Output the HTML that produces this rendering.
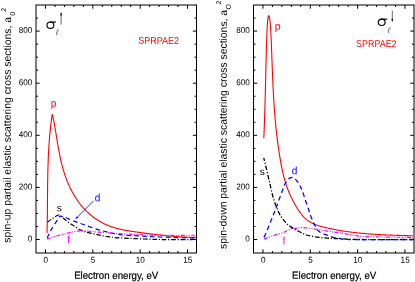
<!DOCTYPE html>
<html><head><meta charset="utf-8"><title>plot</title>
<style>
html,body{margin:0;padding:0;background:#fff;}
svg{display:block;}
text{font-family:"Liberation Sans",sans-serif;}
.tk{font-size:8.6px;fill:#000;}
</style></head><body>
<svg width="415" height="282" viewBox="0 0 415 282">
<defs><filter id="bl" x="0" y="0" width="415" height="282" filterUnits="userSpaceOnUse"><feGaussianBlur stdDeviation="0.38"/></filter></defs>
<rect width="415" height="282" fill="#fff"/>
<g filter="url(#bl)">
<line x1="36.00" y1="239.50" x2="39.70" y2="239.50" stroke="#000" stroke-width="1.0" />
<line x1="196.50" y1="239.50" x2="192.80" y2="239.50" stroke="#000" stroke-width="1.0" />
<line x1="36.00" y1="226.47" x2="38.00" y2="226.47" stroke="#000" stroke-width="1.0" />
<line x1="196.50" y1="226.47" x2="194.50" y2="226.47" stroke="#000" stroke-width="1.0" />
<line x1="36.00" y1="213.45" x2="38.00" y2="213.45" stroke="#000" stroke-width="1.0" />
<line x1="196.50" y1="213.45" x2="194.50" y2="213.45" stroke="#000" stroke-width="1.0" />
<line x1="36.00" y1="200.43" x2="38.00" y2="200.43" stroke="#000" stroke-width="1.0" />
<line x1="196.50" y1="200.43" x2="194.50" y2="200.43" stroke="#000" stroke-width="1.0" />
<line x1="36.00" y1="187.40" x2="39.70" y2="187.40" stroke="#000" stroke-width="1.0" />
<line x1="196.50" y1="187.40" x2="192.80" y2="187.40" stroke="#000" stroke-width="1.0" />
<line x1="36.00" y1="174.38" x2="38.00" y2="174.38" stroke="#000" stroke-width="1.0" />
<line x1="196.50" y1="174.38" x2="194.50" y2="174.38" stroke="#000" stroke-width="1.0" />
<line x1="36.00" y1="161.35" x2="38.00" y2="161.35" stroke="#000" stroke-width="1.0" />
<line x1="196.50" y1="161.35" x2="194.50" y2="161.35" stroke="#000" stroke-width="1.0" />
<line x1="36.00" y1="148.32" x2="38.00" y2="148.32" stroke="#000" stroke-width="1.0" />
<line x1="196.50" y1="148.32" x2="194.50" y2="148.32" stroke="#000" stroke-width="1.0" />
<line x1="36.00" y1="135.30" x2="39.70" y2="135.30" stroke="#000" stroke-width="1.0" />
<line x1="196.50" y1="135.30" x2="192.80" y2="135.30" stroke="#000" stroke-width="1.0" />
<line x1="36.00" y1="122.27" x2="38.00" y2="122.27" stroke="#000" stroke-width="1.0" />
<line x1="196.50" y1="122.27" x2="194.50" y2="122.27" stroke="#000" stroke-width="1.0" />
<line x1="36.00" y1="109.25" x2="38.00" y2="109.25" stroke="#000" stroke-width="1.0" />
<line x1="196.50" y1="109.25" x2="194.50" y2="109.25" stroke="#000" stroke-width="1.0" />
<line x1="36.00" y1="96.22" x2="38.00" y2="96.22" stroke="#000" stroke-width="1.0" />
<line x1="196.50" y1="96.22" x2="194.50" y2="96.22" stroke="#000" stroke-width="1.0" />
<line x1="36.00" y1="83.20" x2="39.70" y2="83.20" stroke="#000" stroke-width="1.0" />
<line x1="196.50" y1="83.20" x2="192.80" y2="83.20" stroke="#000" stroke-width="1.0" />
<line x1="36.00" y1="70.17" x2="38.00" y2="70.17" stroke="#000" stroke-width="1.0" />
<line x1="196.50" y1="70.17" x2="194.50" y2="70.17" stroke="#000" stroke-width="1.0" />
<line x1="36.00" y1="57.15" x2="38.00" y2="57.15" stroke="#000" stroke-width="1.0" />
<line x1="196.50" y1="57.15" x2="194.50" y2="57.15" stroke="#000" stroke-width="1.0" />
<line x1="36.00" y1="44.12" x2="38.00" y2="44.12" stroke="#000" stroke-width="1.0" />
<line x1="196.50" y1="44.12" x2="194.50" y2="44.12" stroke="#000" stroke-width="1.0" />
<line x1="36.00" y1="31.10" x2="39.70" y2="31.10" stroke="#000" stroke-width="1.0" />
<line x1="196.50" y1="31.10" x2="192.80" y2="31.10" stroke="#000" stroke-width="1.0" />
<line x1="36.00" y1="18.07" x2="38.00" y2="18.07" stroke="#000" stroke-width="1.0" />
<line x1="196.50" y1="18.07" x2="194.50" y2="18.07" stroke="#000" stroke-width="1.0" />
<line x1="45.50" y1="253.00" x2="45.50" y2="249.30" stroke="#000" stroke-width="1.0" />
<line x1="45.50" y1="5.00" x2="45.50" y2="8.70" stroke="#000" stroke-width="1.0" />
<line x1="54.97" y1="253.00" x2="54.97" y2="251.00" stroke="#000" stroke-width="1.0" />
<line x1="54.97" y1="5.00" x2="54.97" y2="7.00" stroke="#000" stroke-width="1.0" />
<line x1="64.43" y1="253.00" x2="64.43" y2="251.00" stroke="#000" stroke-width="1.0" />
<line x1="64.43" y1="5.00" x2="64.43" y2="7.00" stroke="#000" stroke-width="1.0" />
<line x1="73.90" y1="253.00" x2="73.90" y2="251.00" stroke="#000" stroke-width="1.0" />
<line x1="73.90" y1="5.00" x2="73.90" y2="7.00" stroke="#000" stroke-width="1.0" />
<line x1="83.37" y1="253.00" x2="83.37" y2="251.00" stroke="#000" stroke-width="1.0" />
<line x1="83.37" y1="5.00" x2="83.37" y2="7.00" stroke="#000" stroke-width="1.0" />
<line x1="92.84" y1="253.00" x2="92.84" y2="249.30" stroke="#000" stroke-width="1.0" />
<line x1="92.84" y1="5.00" x2="92.84" y2="8.70" stroke="#000" stroke-width="1.0" />
<line x1="102.30" y1="253.00" x2="102.30" y2="251.00" stroke="#000" stroke-width="1.0" />
<line x1="102.30" y1="5.00" x2="102.30" y2="7.00" stroke="#000" stroke-width="1.0" />
<line x1="111.77" y1="253.00" x2="111.77" y2="251.00" stroke="#000" stroke-width="1.0" />
<line x1="111.77" y1="5.00" x2="111.77" y2="7.00" stroke="#000" stroke-width="1.0" />
<line x1="121.24" y1="253.00" x2="121.24" y2="251.00" stroke="#000" stroke-width="1.0" />
<line x1="121.24" y1="5.00" x2="121.24" y2="7.00" stroke="#000" stroke-width="1.0" />
<line x1="130.70" y1="253.00" x2="130.70" y2="251.00" stroke="#000" stroke-width="1.0" />
<line x1="130.70" y1="5.00" x2="130.70" y2="7.00" stroke="#000" stroke-width="1.0" />
<line x1="140.17" y1="253.00" x2="140.17" y2="249.30" stroke="#000" stroke-width="1.0" />
<line x1="140.17" y1="5.00" x2="140.17" y2="8.70" stroke="#000" stroke-width="1.0" />
<line x1="149.64" y1="253.00" x2="149.64" y2="251.00" stroke="#000" stroke-width="1.0" />
<line x1="149.64" y1="5.00" x2="149.64" y2="7.00" stroke="#000" stroke-width="1.0" />
<line x1="159.10" y1="253.00" x2="159.10" y2="251.00" stroke="#000" stroke-width="1.0" />
<line x1="159.10" y1="5.00" x2="159.10" y2="7.00" stroke="#000" stroke-width="1.0" />
<line x1="168.57" y1="253.00" x2="168.57" y2="251.00" stroke="#000" stroke-width="1.0" />
<line x1="168.57" y1="5.00" x2="168.57" y2="7.00" stroke="#000" stroke-width="1.0" />
<line x1="178.04" y1="253.00" x2="178.04" y2="251.00" stroke="#000" stroke-width="1.0" />
<line x1="178.04" y1="5.00" x2="178.04" y2="7.00" stroke="#000" stroke-width="1.0" />
<line x1="187.50" y1="253.00" x2="187.50" y2="249.30" stroke="#000" stroke-width="1.0" />
<line x1="187.50" y1="5.00" x2="187.50" y2="8.70" stroke="#000" stroke-width="1.0" />
<rect x="36.00" y="5.00" width="160.50" height="248.00" fill="none" stroke="#000" stroke-width="1.0"/>
<text transform="translate(32.40,241.50) rotate(0.1) scale(0.95,1)" text-anchor="end" class="tk">0</text>
<text transform="translate(32.40,189.40) rotate(0.1) scale(0.95,1)" text-anchor="end" class="tk">200</text>
<text transform="translate(32.40,137.30) rotate(0.1) scale(0.95,1)" text-anchor="end" class="tk">400</text>
<text transform="translate(32.40,85.20) rotate(0.1) scale(0.95,1)" text-anchor="end" class="tk">600</text>
<text transform="translate(32.40,33.10) rotate(0.1) scale(0.95,1)" text-anchor="end" class="tk">800</text>
<text transform="translate(45.70,262.80) rotate(0.1) scale(0.95,1)" text-anchor="middle" class="tk">0</text>
<text transform="translate(93.04,262.80) rotate(0.1) scale(0.95,1)" text-anchor="middle" class="tk">5</text>
<text transform="translate(140.37,262.80) rotate(0.1) scale(0.95,1)" text-anchor="middle" class="tk">10</text>
<text transform="translate(187.70,262.80) rotate(0.1) scale(0.95,1)" text-anchor="middle" class="tk">15</text>
<line x1="253.50" y1="239.50" x2="257.20" y2="239.50" stroke="#000" stroke-width="1.0" />
<line x1="414.00" y1="239.50" x2="410.30" y2="239.50" stroke="#000" stroke-width="1.0" />
<line x1="253.50" y1="226.47" x2="255.50" y2="226.47" stroke="#000" stroke-width="1.0" />
<line x1="414.00" y1="226.47" x2="412.00" y2="226.47" stroke="#000" stroke-width="1.0" />
<line x1="253.50" y1="213.45" x2="255.50" y2="213.45" stroke="#000" stroke-width="1.0" />
<line x1="414.00" y1="213.45" x2="412.00" y2="213.45" stroke="#000" stroke-width="1.0" />
<line x1="253.50" y1="200.43" x2="255.50" y2="200.43" stroke="#000" stroke-width="1.0" />
<line x1="414.00" y1="200.43" x2="412.00" y2="200.43" stroke="#000" stroke-width="1.0" />
<line x1="253.50" y1="187.40" x2="257.20" y2="187.40" stroke="#000" stroke-width="1.0" />
<line x1="414.00" y1="187.40" x2="410.30" y2="187.40" stroke="#000" stroke-width="1.0" />
<line x1="253.50" y1="174.38" x2="255.50" y2="174.38" stroke="#000" stroke-width="1.0" />
<line x1="414.00" y1="174.38" x2="412.00" y2="174.38" stroke="#000" stroke-width="1.0" />
<line x1="253.50" y1="161.35" x2="255.50" y2="161.35" stroke="#000" stroke-width="1.0" />
<line x1="414.00" y1="161.35" x2="412.00" y2="161.35" stroke="#000" stroke-width="1.0" />
<line x1="253.50" y1="148.32" x2="255.50" y2="148.32" stroke="#000" stroke-width="1.0" />
<line x1="414.00" y1="148.32" x2="412.00" y2="148.32" stroke="#000" stroke-width="1.0" />
<line x1="253.50" y1="135.30" x2="257.20" y2="135.30" stroke="#000" stroke-width="1.0" />
<line x1="414.00" y1="135.30" x2="410.30" y2="135.30" stroke="#000" stroke-width="1.0" />
<line x1="253.50" y1="122.27" x2="255.50" y2="122.27" stroke="#000" stroke-width="1.0" />
<line x1="414.00" y1="122.27" x2="412.00" y2="122.27" stroke="#000" stroke-width="1.0" />
<line x1="253.50" y1="109.25" x2="255.50" y2="109.25" stroke="#000" stroke-width="1.0" />
<line x1="414.00" y1="109.25" x2="412.00" y2="109.25" stroke="#000" stroke-width="1.0" />
<line x1="253.50" y1="96.22" x2="255.50" y2="96.22" stroke="#000" stroke-width="1.0" />
<line x1="414.00" y1="96.22" x2="412.00" y2="96.22" stroke="#000" stroke-width="1.0" />
<line x1="253.50" y1="83.20" x2="257.20" y2="83.20" stroke="#000" stroke-width="1.0" />
<line x1="414.00" y1="83.20" x2="410.30" y2="83.20" stroke="#000" stroke-width="1.0" />
<line x1="253.50" y1="70.17" x2="255.50" y2="70.17" stroke="#000" stroke-width="1.0" />
<line x1="414.00" y1="70.17" x2="412.00" y2="70.17" stroke="#000" stroke-width="1.0" />
<line x1="253.50" y1="57.15" x2="255.50" y2="57.15" stroke="#000" stroke-width="1.0" />
<line x1="414.00" y1="57.15" x2="412.00" y2="57.15" stroke="#000" stroke-width="1.0" />
<line x1="253.50" y1="44.12" x2="255.50" y2="44.12" stroke="#000" stroke-width="1.0" />
<line x1="414.00" y1="44.12" x2="412.00" y2="44.12" stroke="#000" stroke-width="1.0" />
<line x1="253.50" y1="31.10" x2="257.20" y2="31.10" stroke="#000" stroke-width="1.0" />
<line x1="414.00" y1="31.10" x2="410.30" y2="31.10" stroke="#000" stroke-width="1.0" />
<line x1="253.50" y1="18.07" x2="255.50" y2="18.07" stroke="#000" stroke-width="1.0" />
<line x1="414.00" y1="18.07" x2="412.00" y2="18.07" stroke="#000" stroke-width="1.0" />
<line x1="262.95" y1="253.00" x2="262.95" y2="249.30" stroke="#000" stroke-width="1.0" />
<line x1="262.95" y1="5.00" x2="262.95" y2="8.70" stroke="#000" stroke-width="1.0" />
<line x1="272.42" y1="253.00" x2="272.42" y2="251.00" stroke="#000" stroke-width="1.0" />
<line x1="272.42" y1="5.00" x2="272.42" y2="7.00" stroke="#000" stroke-width="1.0" />
<line x1="281.88" y1="253.00" x2="281.88" y2="251.00" stroke="#000" stroke-width="1.0" />
<line x1="281.88" y1="5.00" x2="281.88" y2="7.00" stroke="#000" stroke-width="1.0" />
<line x1="291.35" y1="253.00" x2="291.35" y2="251.00" stroke="#000" stroke-width="1.0" />
<line x1="291.35" y1="5.00" x2="291.35" y2="7.00" stroke="#000" stroke-width="1.0" />
<line x1="300.82" y1="253.00" x2="300.82" y2="251.00" stroke="#000" stroke-width="1.0" />
<line x1="300.82" y1="5.00" x2="300.82" y2="7.00" stroke="#000" stroke-width="1.0" />
<line x1="310.28" y1="253.00" x2="310.28" y2="249.30" stroke="#000" stroke-width="1.0" />
<line x1="310.28" y1="5.00" x2="310.28" y2="8.70" stroke="#000" stroke-width="1.0" />
<line x1="319.75" y1="253.00" x2="319.75" y2="251.00" stroke="#000" stroke-width="1.0" />
<line x1="319.75" y1="5.00" x2="319.75" y2="7.00" stroke="#000" stroke-width="1.0" />
<line x1="329.22" y1="253.00" x2="329.22" y2="251.00" stroke="#000" stroke-width="1.0" />
<line x1="329.22" y1="5.00" x2="329.22" y2="7.00" stroke="#000" stroke-width="1.0" />
<line x1="338.69" y1="253.00" x2="338.69" y2="251.00" stroke="#000" stroke-width="1.0" />
<line x1="338.69" y1="5.00" x2="338.69" y2="7.00" stroke="#000" stroke-width="1.0" />
<line x1="348.15" y1="253.00" x2="348.15" y2="251.00" stroke="#000" stroke-width="1.0" />
<line x1="348.15" y1="5.00" x2="348.15" y2="7.00" stroke="#000" stroke-width="1.0" />
<line x1="357.62" y1="253.00" x2="357.62" y2="249.30" stroke="#000" stroke-width="1.0" />
<line x1="357.62" y1="5.00" x2="357.62" y2="8.70" stroke="#000" stroke-width="1.0" />
<line x1="367.09" y1="253.00" x2="367.09" y2="251.00" stroke="#000" stroke-width="1.0" />
<line x1="367.09" y1="5.00" x2="367.09" y2="7.00" stroke="#000" stroke-width="1.0" />
<line x1="376.55" y1="253.00" x2="376.55" y2="251.00" stroke="#000" stroke-width="1.0" />
<line x1="376.55" y1="5.00" x2="376.55" y2="7.00" stroke="#000" stroke-width="1.0" />
<line x1="386.02" y1="253.00" x2="386.02" y2="251.00" stroke="#000" stroke-width="1.0" />
<line x1="386.02" y1="5.00" x2="386.02" y2="7.00" stroke="#000" stroke-width="1.0" />
<line x1="395.49" y1="253.00" x2="395.49" y2="251.00" stroke="#000" stroke-width="1.0" />
<line x1="395.49" y1="5.00" x2="395.49" y2="7.00" stroke="#000" stroke-width="1.0" />
<line x1="404.95" y1="253.00" x2="404.95" y2="249.30" stroke="#000" stroke-width="1.0" />
<line x1="404.95" y1="5.00" x2="404.95" y2="8.70" stroke="#000" stroke-width="1.0" />
<rect x="253.50" y="5.00" width="160.50" height="248.00" fill="none" stroke="#000" stroke-width="1.0"/>
<text transform="translate(249.90,241.50) rotate(0.1) scale(0.95,1)" text-anchor="end" class="tk">0</text>
<text transform="translate(249.90,189.40) rotate(0.1) scale(0.95,1)" text-anchor="end" class="tk">200</text>
<text transform="translate(249.90,137.30) rotate(0.1) scale(0.95,1)" text-anchor="end" class="tk">400</text>
<text transform="translate(249.90,85.20) rotate(0.1) scale(0.95,1)" text-anchor="end" class="tk">600</text>
<text transform="translate(249.90,33.10) rotate(0.1) scale(0.95,1)" text-anchor="end" class="tk">800</text>
<text transform="translate(263.15,262.80) rotate(0.1) scale(0.95,1)" text-anchor="middle" class="tk">0</text>
<text transform="translate(310.48,262.80) rotate(0.1) scale(0.95,1)" text-anchor="middle" class="tk">5</text>
<text transform="translate(357.82,262.80) rotate(0.1) scale(0.95,1)" text-anchor="middle" class="tk">10</text>
<text transform="translate(405.15,262.80) rotate(0.1) scale(0.95,1)" text-anchor="middle" class="tk">15</text>
<path d="M47.01,233.22L47.02,232.90L47.03,232.48L47.04,232.00L47.05,231.50L47.07,231.00L47.08,230.50L47.09,230.00L47.10,229.50L47.11,229.00L47.12,228.50L47.14,228.00L47.15,227.50L47.16,227.00L47.17,226.50L47.18,226.00L47.19,225.50L47.20,225.00L47.21,224.50L47.21,224.00L47.22,223.50L47.23,223.00L47.24,222.50L47.25,222.00L47.26,221.50L47.26,221.00L47.27,220.50L47.28,220.00L47.29,219.50L47.29,219.00L47.30,218.50L47.31,218.00L47.31,217.50L47.32,217.00L47.33,216.50L47.33,216.00L47.34,215.50L47.34,215.00L47.35,214.50L47.36,214.00L47.36,213.50L47.37,213.00L47.37,212.50L47.38,212.00L47.38,211.50L47.39,211.00L47.39,210.50L47.40,210.00L47.40,209.50L47.40,209.00L47.41,208.50L47.41,208.00L47.42,207.50L47.42,207.00L47.43,206.50L47.43,206.00L47.43,205.50L47.44,205.00L47.44,204.50L47.45,204.00L47.45,203.50L47.45,203.00L47.46,202.50L47.46,202.00L47.46,201.50L47.47,201.00L47.47,200.50L47.48,200.00L47.48,199.50L47.48,199.00L47.49,198.50L47.49,198.00L47.50,197.50L47.50,197.00L47.50,196.50L47.51,196.00L47.51,195.50L47.52,195.00L47.52,194.50L47.52,194.00L47.53,193.50L47.53,193.00L47.54,192.50L47.54,192.00L47.55,191.50L47.55,191.00L47.56,190.50L47.56,190.00L47.56,189.50L47.57,189.00L47.58,188.50L47.58,188.00L47.59,187.50L47.59,187.00L47.60,186.50L47.60,186.00L47.61,185.50L47.61,185.00L47.62,184.50L47.63,184.00L47.63,183.50L47.64,183.00L47.65,182.50L47.65,182.00L47.66,181.50L47.67,181.00L47.68,180.51L47.68,180.01L47.69,179.51L47.70,179.01L47.71,178.51L47.72,178.01L47.73,177.51L47.73,177.01L47.74,176.51L47.75,176.01L47.76,175.51L47.77,175.01L47.78,174.51L47.79,174.01L47.80,173.51L47.82,173.01L47.83,172.51L47.84,172.01L47.85,171.51L47.86,171.01L47.87,170.51L47.89,170.01L47.90,169.51L47.91,169.01L47.93,168.51L47.94,168.01L47.95,167.51L47.97,167.01L47.98,166.51L48.00,166.01L48.01,165.51L48.03,165.01L48.05,164.51L48.06,164.01L48.08,163.51L48.10,163.01L48.11,162.51L48.13,162.01L48.15,161.51L48.17,161.01L48.19,160.51L48.21,160.01L48.23,159.51L48.25,159.01L48.27,158.51L48.29,158.01L48.31,157.51L48.33,157.01L48.35,156.52L48.37,156.02L48.40,155.52L48.42,155.02L48.44,154.52L48.47,154.02L48.49,153.52L48.52,153.02L48.54,152.52L48.57,152.02L48.60,151.52L48.62,151.02L48.65,150.52L48.68,150.02L48.71,149.52L48.74,149.03L48.77,148.53L48.80,148.03L48.83,147.53L48.86,147.03L48.89,146.53L48.92,146.03L48.95,145.53L48.99,145.03L49.02,144.53L49.05,144.04L49.09,143.54L49.12,143.04L49.16,142.54L49.19,142.04L49.23,141.54L49.27,141.04L49.31,140.54L49.34,140.05L49.38,139.55L49.42,139.05L49.46,138.55L49.50,138.05L49.55,137.55L49.59,137.06L49.63,136.56L49.67,136.06L49.72,135.56L49.76,135.06L49.81,134.57L49.85,134.07L49.90,133.57L49.95,133.07L49.99,132.57L50.04,132.08L50.09,131.58L50.14,131.08L50.19,130.58L50.24,130.09L50.29,129.59L50.35,129.09L50.40,128.59L50.45,128.10L50.51,127.60L50.56,127.10L50.62,126.61L50.67,126.11L50.73,125.61L50.79,125.12L50.85,124.62L50.91,124.12L50.97,123.63L51.03,123.13L51.09,122.63L51.15,122.14L51.21,121.64L51.28,121.15L51.34,120.65L51.41,120.16L51.47,119.66L51.54,119.16L51.61,118.67L51.68,118.17L51.75,117.68L51.82,117.18L51.89,116.69L51.96,116.19L52.03,115.70L52.10,115.22L52.18,114.79L52.26,114.51L52.35,114.47L52.45,114.69L52.56,115.08L52.67,115.54L52.77,116.03L52.88,116.52L52.98,117.01L53.09,117.50L53.19,117.99L53.29,118.48L53.39,118.97L53.49,119.46L53.58,119.95L53.68,120.44L53.77,120.93L53.87,121.42L53.96,121.91L54.05,122.40L54.15,122.89L54.24,123.38L54.33,123.88L54.42,124.37L54.51,124.86L54.59,125.35L54.68,125.84L54.77,126.34L54.85,126.83L54.94,127.32L55.02,127.81L55.11,128.31L55.19,128.80L55.28,129.29L55.36,129.79L55.44,130.28L55.52,130.77L55.61,131.27L55.69,131.76L55.77,132.25L55.85,132.75L55.93,133.24L56.01,133.73L56.09,134.23L56.17,134.72L56.25,135.21L56.33,135.71L56.41,136.20L56.49,136.69L56.57,137.19L56.65,137.68L56.73,138.18L56.81,138.67L56.89,139.16L56.97,139.66L57.05,140.15L57.13,140.64L57.21,141.14L57.30,141.63L57.38,142.12L57.46,142.62L57.54,143.11L57.62,143.60L57.70,144.10L57.79,144.59L57.87,145.08L57.96,145.57L58.04,146.07L58.12,146.56L58.21,147.05L58.30,147.55L58.38,148.04L58.47,148.53L58.56,149.02L58.65,149.51L58.74,150.01L58.83,150.50L58.92,150.99L59.01,151.48L59.10,151.97L59.19,152.46L59.29,152.96L59.38,153.45L59.48,153.94L59.57,154.43L59.67,154.92L59.77,155.41L59.87,155.90L59.97,156.39L60.07,156.88L60.17,157.37L60.28,157.86L60.38,158.34L60.49,158.83L60.60,159.32L60.70,159.81L60.81,160.30L60.93,160.79L61.04,161.27L61.15,161.76L61.27,162.25L61.38,162.73L61.50,163.22L61.62,163.70L61.74,164.19L61.86,164.67L61.99,165.16L62.11,165.64L62.24,166.13L62.37,166.61L62.50,167.09L62.63,167.57L62.77,168.05L62.90,168.54L63.04,169.02L63.18,169.50L63.32,169.98L63.46,170.46L63.61,170.93L63.75,171.41L63.90,171.89L64.05,172.37L64.20,172.84L64.35,173.32L64.51,173.80L64.67,174.27L64.83,174.74L64.99,175.22L65.15,175.69L65.31,176.16L65.48,176.63L65.65,177.10L65.82,177.57L65.99,178.04L66.17,178.51L66.34,178.98L66.52,179.45L66.70,179.91L66.88,180.38L67.07,180.84L67.25,181.31L67.44,181.77L67.63,182.23L67.83,182.69L68.02,183.16L68.22,183.62L68.42,184.07L68.62,184.53L68.82,184.99L69.03,185.44L69.23,185.90L69.44,186.35L69.65,186.81L69.87,187.26L70.08,187.71L70.30,188.16L70.52,188.61L70.74,189.06L70.97,189.50L71.20,189.95L71.43,190.39L71.66,190.84L71.89,191.28L72.13,191.72L72.37,192.16L72.61,192.60L72.85,193.03L73.09,193.47L73.34,193.90L73.59,194.34L73.84,194.77L74.10,195.20L74.35,195.63L74.61,196.06L74.87,196.48L75.14,196.91L75.40,197.33L75.67,197.75L75.94,198.17L76.22,198.59L76.49,199.01L76.77,199.42L77.05,199.84L77.33,200.25L77.62,200.66L77.91,201.07L78.20,201.48L78.49,201.88L78.78,202.29L79.08,202.69L79.38,203.09L79.68,203.49L79.99,203.88L80.29,204.28L80.60,204.67L80.92,205.06L81.23,205.45L81.55,205.84L81.87,206.22L82.19,206.60L82.51,206.98L82.84,207.36L83.17,207.74L83.50,208.11L83.84,208.48L84.18,208.85L84.52,209.22L84.86,209.58L85.21,209.94L85.55,210.30L85.90,210.66L86.26,211.01L86.61,211.36L86.97,211.71L87.33,212.06L87.70,212.40L88.06,212.74L88.43,213.08L88.80,213.41L89.18,213.74L89.55,214.07L89.93,214.40L90.31,214.72L90.70,215.04L91.08,215.36L91.47,215.68L91.86,215.99L92.25,216.30L92.65,216.60L93.05,216.90L93.45,217.20L93.85,217.50L94.25,217.80L94.66,218.09L95.07,218.37L95.48,218.66L95.89,218.94L96.31,219.22L96.73,219.50L97.15,219.77L97.57,220.04L97.99,220.30L98.41,220.57L98.84,220.83L99.27,221.09L99.70,221.34L100.13,221.59L100.57,221.84L101.00,222.08L101.44,222.32L101.88,222.56L102.32,222.80L102.77,223.03L103.21,223.25L103.66,223.48L104.11,223.70L104.56,223.92L105.01,224.13L105.46,224.34L105.92,224.55L106.37,224.75L106.83,224.95L107.29,225.15L107.75,225.34L108.21,225.53L108.68,225.72L109.14,225.90L109.61,226.08L110.08,226.26L110.55,226.43L111.02,226.60L111.49,226.76L111.96,226.92L112.44,227.08L112.91,227.24L113.39,227.39L113.87,227.54L114.35,227.68L114.83,227.82L115.31,227.96L115.79,228.10L116.27,228.23L116.75,228.37L117.23,228.49L117.72,228.62L118.20,228.74L118.69,228.86L119.17,228.98L119.66,229.09L120.15,229.21L120.64,229.32L121.12,229.43L121.61,229.53L122.10,229.64L122.59,229.74L123.08,229.84L123.57,229.93L124.06,230.03L124.55,230.12L125.04,230.22L125.54,230.31L126.03,230.40L126.52,230.48L127.01,230.57L127.51,230.65L128.00,230.74L128.49,230.82L128.99,230.90L129.48,230.98L129.97,231.06L130.47,231.13L130.96,231.21L131.46,231.28L131.95,231.36L132.44,231.43L132.94,231.51L133.43,231.58L133.93,231.65L134.42,231.72L134.92,231.79L135.41,231.86L135.91,231.93L136.40,232.00L136.90,232.07L137.39,232.14L137.89,232.21L138.39,232.27L138.88,232.34L139.38,232.41L139.87,232.48L140.37,232.55L140.86,232.61L141.36,232.68L141.85,232.75L142.35,232.81L142.84,232.88L143.34,232.95L143.84,233.01L144.33,233.08L144.83,233.14L145.32,233.21L145.82,233.27L146.31,233.34L146.81,233.40L147.31,233.47L147.80,233.53L148.30,233.60L148.79,233.66L149.29,233.72L149.79,233.78L150.28,233.85L150.78,233.91L151.27,233.97L151.77,234.03L152.27,234.09L152.76,234.15L153.26,234.21L153.76,234.27L154.25,234.33L154.75,234.39L155.25,234.45L155.74,234.51L156.24,234.57L156.74,234.63L157.23,234.68L157.73,234.74L158.23,234.80L158.72,234.85L159.22,234.91L159.72,234.96L160.21,235.02L160.71,235.07L161.21,235.13L161.70,235.18L162.20,235.23L162.70,235.29L163.20,235.34L163.69,235.39L164.19,235.44L164.69,235.49L165.19,235.54L165.68,235.59L166.18,235.64L166.68,235.69L167.18,235.74L167.67,235.79L168.17,235.83L168.67,235.88L169.17,235.93L169.66,235.97L170.16,236.02L170.66,236.06L171.16,236.10L171.66,236.15L172.16,236.19L172.65,236.23L173.15,236.27L173.65,236.32L174.15,236.36L174.65,236.40L175.15,236.43L175.64,236.47L176.14,236.51L176.64,236.55L177.14,236.58L177.64,236.62L178.14,236.66L178.64,236.69L179.13,236.72L179.63,236.76L180.13,236.79L180.63,236.82L181.13,236.85L181.63,236.88L182.13,236.91L182.63,236.94L183.13,236.97L183.63,237.00L184.13,237.02L184.63,237.05L185.12,237.07L185.62,237.10L186.12,237.12L186.62,237.14L187.12,237.16L187.62,237.19L188.12,237.21L188.62,237.22L189.12,237.24L189.62,237.26L190.12,237.28L190.62,237.29L191.12,237.31L191.62,237.32L192.12,237.33L192.62,237.34L193.12,237.36L193.62,237.37L194.12,237.37L194.61,237.38L195.08,237.39L195.49,237.39L195.77,237.40" fill="none" stroke="#ff0000" stroke-width="1.1" stroke-linejoin="round"/>
<path d="M47.50,222.20C48.38,221.55 50.92,219.50 52.75,218.30C54.58,217.10 56.96,215.18 58.50,215.00C60.04,214.82 60.83,216.37 62.00,217.20C63.17,218.03 64.17,218.97 65.50,220.00C66.83,221.03 68.25,222.18 70.00,223.40C71.75,224.62 74.33,226.23 76.00,227.30C77.67,228.37 78.67,229.12 80.00,229.80C81.33,230.48 82.90,231.00 84.00,231.40C85.10,231.80 84.39,231.65 86.60,232.20C88.81,232.75 93.70,233.97 97.25,234.70C100.80,235.43 104.11,236.07 107.90,236.60C111.69,237.13 111.32,237.42 120.00,237.90C128.68,238.38 147.33,239.23 160.00,239.50C172.67,239.77 190.00,239.50 196.00,239.50" fill="none" stroke="#000000" stroke-width="1.2" stroke-dasharray="4.6 1.8 1.2 1.8" stroke-dashoffset="0" stroke-linejoin="round"/>
<path d="M47.20,238.00C47.47,237.42 48.05,236.02 48.80,234.50C49.55,232.98 50.25,231.35 51.70,228.90C53.15,226.45 56.12,221.92 57.50,219.80C58.88,217.68 58.98,216.70 60.00,216.20C61.02,215.70 62.15,216.35 63.60,216.80C65.05,217.25 66.63,218.05 68.70,218.90C70.77,219.75 74.23,221.20 76.00,221.90C77.77,222.60 77.53,222.48 79.30,223.10C81.07,223.72 83.61,224.55 86.60,225.60C89.59,226.65 93.70,228.32 97.25,229.40C100.80,230.48 104.11,231.22 107.90,232.10C111.69,232.98 114.65,234.05 120.00,234.70C125.35,235.35 133.33,235.62 140.00,236.00C146.67,236.38 150.67,236.63 160.00,237.00C169.33,237.37 190.00,238.00 196.00,238.20" fill="none" stroke="#0000ff" stroke-width="1.2" stroke-dasharray="4.6 3.3" stroke-dashoffset="0" stroke-linejoin="round"/>
<path d="M46.90,239.30C48.05,238.87 50.52,237.67 53.80,236.70C57.08,235.73 63.07,234.38 66.60,233.50C70.13,232.62 72.10,231.85 75.00,231.40C77.90,230.95 80.29,230.70 84.00,230.80C87.71,230.90 91.25,231.52 97.25,232.00C103.25,232.48 113.38,233.28 120.00,233.70C126.62,234.12 131.00,234.24 137.00,234.50C143.00,234.76 146.17,235.12 156.00,235.25C165.83,235.38 189.33,235.25 196.00,235.25" fill="none" stroke="#ff00ff" stroke-width="1.2" stroke-dasharray="3.9 1.5 1 1.5 1 1.5" stroke-dashoffset="0" stroke-linejoin="round"/>
<line x1="93.60" y1="200.90" x2="76.60" y2="217.90" stroke="#0000ff" stroke-width="0.85" />
<path d="M75.3,219.2 L78.3,217.7 L76.8,216.2 Z" fill="#0000ff"/>
<path d="M263.81,138.17L263.82,137.79L263.85,137.30L263.87,136.80L263.89,136.30L263.91,135.80L263.93,135.30L263.96,134.80L263.98,134.30L264.00,133.80L264.02,133.30L264.04,132.81L264.06,132.31L264.08,131.81L264.10,131.31L264.12,130.81L264.14,130.31L264.16,129.81L264.18,129.31L264.20,128.81L264.22,128.31L264.24,127.81L264.26,127.31L264.28,126.81L264.30,126.31L264.32,125.81L264.34,125.31L264.36,124.81L264.37,124.31L264.39,123.81L264.41,123.31L264.43,122.81L264.45,122.31L264.46,121.81L264.48,121.31L264.50,120.81L264.52,120.31L264.53,119.81L264.55,119.31L264.57,118.82L264.58,118.32L264.60,117.82L264.62,117.32L264.63,116.82L264.65,116.32L264.67,115.82L264.68,115.32L264.70,114.82L264.71,114.32L264.73,113.82L264.75,113.32L264.76,112.82L264.78,112.32L264.79,111.82L264.81,111.32L264.82,110.82L264.84,110.32L264.85,109.82L264.87,109.32L264.88,108.82L264.90,108.32L264.91,107.82L264.93,107.32L264.94,106.82L264.95,106.32L264.97,105.82L264.98,105.32L265.00,104.82L265.01,104.32L265.02,103.82L265.04,103.32L265.05,102.82L265.06,102.32L265.08,101.82L265.09,101.32L265.10,100.82L265.12,100.32L265.13,99.82L265.14,99.32L265.16,98.82L265.17,98.32L265.18,97.82L265.20,97.32L265.21,96.82L265.22,96.32L265.24,95.82L265.25,95.33L265.26,94.83L265.27,94.33L265.29,93.83L265.30,93.33L265.31,92.83L265.32,92.33L265.34,91.83L265.35,91.33L265.36,90.83L265.37,90.33L265.38,89.83L265.40,89.33L265.41,88.83L265.42,88.33L265.43,87.83L265.45,87.33L265.46,86.83L265.47,86.33L265.48,85.83L265.49,85.33L265.50,84.83L265.52,84.33L265.53,83.83L265.54,83.33L265.55,82.83L265.56,82.33L265.58,81.83L265.59,81.33L265.60,80.83L265.61,80.33L265.62,79.83L265.64,79.33L265.65,78.83L265.66,78.33L265.67,77.83L265.68,77.33L265.69,76.83L265.71,76.33L265.72,75.83L265.73,75.33L265.74,74.83L265.75,74.33L265.77,73.83L265.78,73.33L265.79,72.83L265.80,72.33L265.81,71.83L265.82,71.33L265.84,70.83L265.85,70.33L265.86,69.83L265.87,69.33L265.88,68.83L265.90,68.33L265.91,67.83L265.92,67.33L265.93,66.83L265.95,66.33L265.96,65.83L265.97,65.33L265.98,64.83L266.00,64.33L266.01,63.83L266.02,63.33L266.03,62.83L266.05,62.33L266.06,61.83L266.07,61.33L266.08,60.84L266.10,60.34L266.11,59.84L266.12,59.34L266.13,58.84L266.15,58.34L266.16,57.84L266.17,57.34L266.19,56.84L266.20,56.34L266.21,55.84L266.23,55.34L266.24,54.84L266.25,54.34L266.27,53.84L266.28,53.34L266.30,52.84L266.31,52.34L266.32,51.84L266.34,51.34L266.35,50.84L266.37,50.34L266.38,49.84L266.39,49.34L266.41,48.84L266.42,48.34L266.44,47.84L266.45,47.34L266.47,46.84L266.48,46.34L266.50,45.84L266.51,45.34L266.53,44.84L266.54,44.34L266.56,43.84L266.57,43.34L266.59,42.84L266.61,42.34L266.62,41.84L266.64,41.34L266.65,40.84L266.67,40.34L266.69,39.84L266.70,39.34L266.72,38.84L266.74,38.34L266.75,37.84L266.77,37.35L266.79,36.85L266.81,36.35L266.82,35.85L266.84,35.35L266.86,34.85L266.88,34.35L266.89,33.85L266.91,33.35L266.93,32.85L266.95,32.35L266.97,31.85L266.99,31.35L267.01,30.85L267.04,30.35L267.06,29.85L267.08,29.35L267.11,28.85L267.13,28.35L267.16,27.85L267.19,27.35L267.21,26.85L267.24,26.36L267.27,25.86L267.31,25.36L267.34,24.86L267.37,24.36L267.41,23.86L267.45,23.36L267.49,22.86L267.53,22.37L267.57,21.87L267.61,21.37L267.66,20.87L267.71,20.37L267.76,19.88L267.81,19.38L267.86,18.88L267.92,18.39L267.98,17.89L268.05,17.39L268.15,16.91L268.29,16.43L268.47,15.97L268.67,15.67L268.86,15.80L269.01,16.23L269.15,16.71L269.28,17.19L269.39,17.68L269.50,18.17L269.59,18.66L269.69,19.15L269.77,19.64L269.85,20.14L269.92,20.63L269.98,21.13L270.04,21.62L270.10,22.12L270.15,22.62L270.20,23.11L270.24,23.61L270.28,24.11L270.32,24.61L270.36,25.11L270.39,25.61L270.43,26.10L270.46,26.60L270.49,27.10L270.53,27.60L270.56,28.10L270.59,28.60L270.62,29.10L270.65,29.60L270.68,30.10L270.71,30.60L270.74,31.10L270.77,31.59L270.80,32.09L270.83,32.59L270.85,33.09L270.88,33.59L270.91,34.09L270.93,34.59L270.96,35.09L270.99,35.59L271.01,36.09L271.04,36.59L271.06,37.09L271.09,37.59L271.11,38.09L271.13,38.58L271.16,39.08L271.18,39.58L271.20,40.08L271.23,40.58L271.25,41.08L271.27,41.58L271.29,42.08L271.31,42.58L271.33,43.08L271.36,43.58L271.38,44.08L271.40,44.58L271.42,45.08L271.44,45.58L271.46,46.08L271.48,46.58L271.50,47.08L271.52,47.58L271.54,48.08L271.55,48.58L271.57,49.08L271.59,49.58L271.61,50.07L271.63,50.57L271.65,51.07L271.67,51.57L271.68,52.07L271.70,52.57L271.72,53.07L271.74,53.57L271.76,54.07L271.77,54.57L271.79,55.07L271.81,55.57L271.83,56.07L271.84,56.57L271.86,57.07L271.88,57.57L271.90,58.07L271.91,58.57L271.93,59.07L271.95,59.57L271.97,60.07L271.98,60.57L272.00,61.07L272.02,61.57L272.04,62.07L272.06,62.57L272.07,63.07L272.09,63.57L272.11,64.07L272.13,64.57L272.15,65.07L272.16,65.56L272.18,66.06L272.20,66.56L272.22,67.06L272.24,67.56L272.26,68.06L272.28,68.56L272.29,69.06L272.31,69.56L272.33,70.06L272.35,70.56L272.37,71.06L272.39,71.56L272.41,72.06L272.43,72.56L272.45,73.06L272.47,73.56L272.49,74.06L272.51,74.56L272.53,75.06L272.55,75.56L272.57,76.06L272.59,76.56L272.61,77.06L272.63,77.56L272.65,78.06L272.67,78.55L272.70,79.05L272.72,79.55L272.74,80.05L272.76,80.55L272.78,81.05L272.80,81.55L272.83,82.05L272.85,82.55L272.87,83.05L272.89,83.55L272.92,84.05L272.94,84.55L272.96,85.05L272.99,85.55L273.01,86.05L273.04,86.55L273.06,87.05L273.08,87.55L273.11,88.04L273.13,88.54L273.16,89.04L273.18,89.54L273.21,90.04L273.24,90.54L273.26,91.04L273.29,91.54L273.31,92.04L273.34,92.54L273.37,93.04L273.39,93.54L273.42,94.04L273.45,94.54L273.48,95.04L273.51,95.53L273.53,96.03L273.56,96.53L273.59,97.03L273.62,97.53L273.65,98.03L273.68,98.53L273.71,99.03L273.74,99.53L273.77,100.03L273.80,100.53L273.83,101.02L273.86,101.52L273.89,102.02L273.93,102.52L273.96,103.02L273.99,103.52L274.02,104.02L274.06,104.52L274.09,105.02L274.12,105.52L274.16,106.01L274.19,106.51L274.23,107.01L274.26,107.51L274.30,108.01L274.33,108.51L274.37,109.01L274.40,109.51L274.44,110.00L274.48,110.50L274.51,111.00L274.55,111.50L274.59,112.00L274.63,112.50L274.67,113.00L274.71,113.49L274.75,113.99L274.79,114.49L274.83,114.99L274.87,115.49L274.91,115.99L274.95,116.48L274.99,116.98L275.03,117.48L275.07,117.98L275.12,118.48L275.16,118.98L275.20,119.47L275.25,119.97L275.29,120.47L275.34,120.97L275.38,121.47L275.43,121.96L275.47,122.46L275.52,122.96L275.57,123.46L275.61,123.95L275.66,124.45L275.71,124.95L275.76,125.45L275.80,125.95L275.85,126.44L275.90,126.94L275.95,127.44L276.00,127.94L276.06,128.43L276.11,128.93L276.16,129.43L276.21,129.92L276.26,130.42L276.32,130.92L276.37,131.42L276.43,131.91L276.48,132.41L276.53,132.91L276.59,133.40L276.65,133.90L276.70,134.40L276.76,134.89L276.82,135.39L276.88,135.89L276.93,136.38L276.99,136.88L277.05,137.38L277.11,137.87L277.17,138.37L277.23,138.87L277.30,139.36L277.36,139.86L277.42,140.35L277.48,140.85L277.55,141.35L277.61,141.84L277.68,142.34L277.74,142.83L277.81,143.33L277.87,143.83L277.94,144.32L278.01,144.82L278.07,145.31L278.14,145.81L278.21,146.30L278.28,146.80L278.35,147.29L278.42,147.79L278.49,148.28L278.56,148.78L278.64,149.27L278.71,149.77L278.78,150.26L278.86,150.76L278.93,151.25L279.01,151.74L279.08,152.24L279.16,152.73L279.24,153.23L279.31,153.72L279.39,154.21L279.47,154.71L279.55,155.20L279.63,155.70L279.71,156.19L279.79,156.68L279.87,157.18L279.96,157.67L280.04,158.16L280.12,158.65L280.21,159.15L280.29,159.64L280.38,160.13L280.46,160.63L280.55,161.12L280.64,161.61L280.73,162.10L280.81,162.59L280.90,163.09L281.00,163.58L281.09,164.07L281.18,164.56L281.27,165.05L281.37,165.54L281.46,166.03L281.56,166.52L281.66,167.02L281.75,167.51L281.85,168.00L281.95,168.49L282.05,168.97L282.16,169.46L282.26,169.95L282.37,170.44L282.47,170.93L282.58,171.42L282.69,171.91L282.80,172.39L282.91,172.88L283.03,173.37L283.14,173.86L283.26,174.34L283.37,174.83L283.49,175.31L283.61,175.80L283.74,176.28L283.86,176.77L283.99,177.25L284.11,177.73L284.24,178.22L284.37,178.70L284.51,179.18L284.64,179.66L284.78,180.15L284.92,180.63L285.06,181.11L285.20,181.59L285.34,182.06L285.49,182.54L285.63,183.02L285.78,183.50L285.94,183.97L286.09,184.45L286.25,184.92L286.40,185.40L286.56,185.87L286.73,186.35L286.89,186.82L287.06,187.29L287.23,187.76L287.40,188.23L287.57,188.70L287.75,189.17L287.93,189.63L288.11,190.10L288.29,190.56L288.48,191.03L288.66,191.49L288.85,191.95L289.05,192.42L289.24,192.88L289.44,193.34L289.64,193.79L289.84,194.25L290.04,194.71L290.25,195.17L290.45,195.62L290.66,196.07L290.87,196.53L291.09,196.98L291.30,197.43L291.52,197.88L291.74,198.33L291.96,198.78L292.19,199.23L292.41,199.67L292.64,200.12L292.87,200.56L293.10,201.01L293.33,201.45L293.56,201.89L293.80,202.33L294.04,202.77L294.28,203.21L294.52,203.65L294.76,204.08L295.01,204.52L295.25,204.95L295.50,205.39L295.76,205.82L296.01,206.25L296.27,206.68L296.52,207.11L296.78,207.54L297.05,207.96L297.31,208.39L297.58,208.81L297.85,209.23L298.12,209.65L298.39,210.07L298.67,210.48L298.95,210.90L299.23,211.31L299.51,211.72L299.80,212.13L300.09,212.54L300.38,212.94L300.68,213.35L300.98,213.75L301.29,214.14L301.60,214.53L301.91,214.92L302.23,215.31L302.55,215.69L302.88,216.07L303.21,216.44L303.55,216.81L303.90,217.17L304.24,217.53L304.60,217.88L304.96,218.23L305.33,218.57L305.70,218.90L306.08,219.23L306.46,219.55L306.85,219.87L307.24,220.17L307.65,220.47L308.05,220.76L308.47,221.04L308.88,221.32L309.30,221.58L309.73,221.85L310.16,222.10L310.60,222.35L311.03,222.59L311.48,222.82L311.92,223.05L312.37,223.27L312.82,223.49L313.28,223.70L313.73,223.90L314.19,224.10L314.65,224.29L315.12,224.48L315.58,224.66L316.05,224.84L316.52,225.01L316.99,225.18L317.46,225.34L317.93,225.50L318.41,225.66L318.88,225.81L319.36,225.96L319.84,226.11L320.32,226.25L320.80,226.39L321.28,226.52L321.76,226.65L322.25,226.78L322.73,226.91L323.21,227.04L323.70,227.16L324.18,227.28L324.67,227.40L325.16,227.51L325.64,227.63L326.13,227.74L326.62,227.85L327.11,227.96L327.59,228.07L328.08,228.18L328.57,228.28L329.06,228.39L329.55,228.49L330.04,228.60L330.53,228.70L331.02,228.80L331.51,228.90L332.00,229.00L332.49,229.10L332.98,229.20L333.47,229.29L333.96,229.39L334.45,229.48L334.94,229.58L335.43,229.67L335.92,229.76L336.42,229.85L336.91,229.94L337.40,230.03L337.89,230.12L338.38,230.20L338.88,230.29L339.37,230.38L339.86,230.46L340.36,230.54L340.85,230.62L341.34,230.71L341.84,230.79L342.33,230.86L342.82,230.94L343.32,231.02L343.81,231.10L344.31,231.17L344.80,231.25L345.29,231.32L345.79,231.39L346.28,231.47L346.78,231.54L347.27,231.61L347.77,231.68L348.26,231.75L348.76,231.81L349.26,231.88L349.75,231.95L350.25,232.01L350.74,232.08L351.24,232.14L351.73,232.20L352.23,232.26L352.73,232.33L353.22,232.39L353.72,232.45L354.22,232.50L354.71,232.56L355.21,232.62L355.71,232.68L356.20,232.73L356.70,232.79L357.20,232.84L357.69,232.89L358.19,232.95L358.69,233.00L359.19,233.05L359.68,233.10L360.18,233.15L360.68,233.20L361.18,233.25L361.67,233.30L362.17,233.34L362.67,233.39L363.17,233.44L363.67,233.48L364.16,233.52L364.66,233.57L365.16,233.61L365.66,233.65L366.16,233.70L366.65,233.74L367.15,233.78L367.65,233.82L368.15,233.86L368.65,233.90L369.15,233.93L369.65,233.97L370.14,234.01L370.64,234.04L371.14,234.08L371.64,234.12L372.14,234.15L372.64,234.18L373.14,234.22L373.64,234.25L374.13,234.28L374.63,234.32L375.13,234.35L375.63,234.38L376.13,234.41L376.63,234.44L377.13,234.47L377.63,234.50L378.13,234.53L378.63,234.55L379.13,234.58L379.62,234.61L380.12,234.64L380.62,234.66L381.12,234.69L381.62,234.71L382.12,234.74L382.62,234.76L383.12,234.79L383.62,234.81L384.12,234.84L384.62,234.86L385.12,234.88L385.62,234.91L386.12,234.93L386.62,234.95L387.12,234.97L387.62,234.99L388.12,235.01L388.61,235.03L389.11,235.05L389.61,235.07L390.11,235.09L390.61,235.11L391.11,235.13L391.61,235.15L392.11,235.17L392.61,235.19L393.11,235.21L393.61,235.22L394.11,235.24L394.61,235.26L395.11,235.27L395.61,235.29L396.11,235.31L396.61,235.32L397.11,235.34L397.61,235.36L398.11,235.37L398.61,235.39L399.11,235.40L399.61,235.42L400.11,235.44L400.61,235.45L401.11,235.47L401.61,235.48L402.11,235.49L402.61,235.51L403.11,235.52L403.61,235.54L404.11,235.55L404.61,235.57L405.11,235.58L405.61,235.60L406.10,235.61L406.60,235.62L407.10,235.64L407.60,235.65L408.10,235.67L408.60,235.68L409.10,235.69L409.60,235.71L410.10,235.72L410.60,235.73L411.10,235.75L411.60,235.76L412.10,235.78L412.58,235.79L412.90,235.80" fill="none" stroke="#ff0000" stroke-width="1.1" stroke-linejoin="round"/>
<path d="M263.75,157.90C264.12,159.42 265.12,163.32 266.00,167.00C266.88,170.68 268.30,177.00 269.00,180.00C269.70,183.00 269.62,182.50 270.20,185.00C270.78,187.50 271.58,191.67 272.50,195.00C273.42,198.33 274.38,201.57 275.70,205.00C277.02,208.43 278.55,212.50 280.40,215.60C282.25,218.70 284.67,221.47 286.80,223.60C288.93,225.73 291.00,227.00 293.20,228.40C295.40,229.80 297.77,230.90 300.00,232.00C302.23,233.10 303.73,234.15 306.60,235.00C309.48,235.85 313.70,236.57 317.25,237.10C320.80,237.63 324.11,237.93 327.90,238.20C331.69,238.47 334.65,238.48 340.00,238.70C345.35,238.92 347.83,239.37 360.00,239.50C372.17,239.63 404.17,239.50 413.00,239.50" fill="none" stroke="#000000" stroke-width="1.3" stroke-dasharray="4.6 1.8 1.2 1.8" stroke-dashoffset="1.3" stroke-linejoin="round"/>
<path d="M263.50,238.50C264.02,237.35 265.37,234.52 266.60,231.60C267.83,228.68 269.32,224.97 270.90,221.00C272.48,217.03 273.88,213.72 276.10,207.80C278.33,201.88 282.55,189.78 284.25,185.50C285.95,181.22 285.64,183.12 286.30,182.10C286.96,181.08 287.58,180.10 288.20,179.40C288.82,178.70 289.37,178.25 290.00,177.90C290.63,177.55 291.33,177.32 292.00,177.30C292.67,177.28 293.33,177.38 294.00,177.80C294.67,178.22 295.15,178.78 296.00,179.80C296.85,180.82 298.33,182.68 299.10,183.90C299.87,185.12 300.07,186.00 300.60,187.10C301.13,188.20 301.58,188.55 302.30,190.50C303.02,192.45 303.82,195.55 304.90,198.80C305.97,202.05 307.95,207.60 308.75,210.00C309.55,212.40 309.18,211.70 309.70,213.20C310.22,214.70 311.00,216.88 311.90,219.00C312.80,221.12 313.85,223.77 315.10,225.90C316.35,228.03 317.27,230.20 319.40,231.80C321.53,233.40 325.13,234.48 327.90,235.50C330.67,236.52 333.98,237.42 336.00,237.90C338.02,238.38 338.23,238.13 340.00,238.40C341.77,238.67 339.93,239.28 346.60,239.50C353.27,239.72 368.93,239.68 380.00,239.70C391.07,239.72 407.50,239.62 413.00,239.60" fill="none" stroke="#0000ff" stroke-width="1.25" stroke-dasharray="4.6 3.3" stroke-dashoffset="-1.5" stroke-linejoin="round"/>
<path d="M264.00,239.10C265.32,238.58 268.80,237.06 271.90,236.00C275.00,234.94 279.40,233.92 282.60,232.75C285.80,231.58 288.87,229.74 291.10,229.00C293.33,228.26 294.30,228.55 296.00,228.30C297.70,228.05 298.63,227.45 301.30,227.50C303.97,227.55 307.57,227.97 312.00,228.60C316.43,229.22 323.23,230.54 327.90,231.25C332.57,231.96 335.11,232.09 340.00,232.85C344.89,233.61 352.08,235.13 357.25,235.80C362.42,236.47 361.71,236.58 371.00,236.85C380.29,237.12 406.00,237.31 413.00,237.40" fill="none" stroke="#ff00ff" stroke-width="1.2" stroke-dasharray="3.9 1.5 1 1.5 1 1.5" stroke-dashoffset="0" stroke-linejoin="round"/>
<text transform="translate(53.50,106.70) rotate(0.1) scale(0.95,1)" fill="#ff0000" font-size="10.6" text-anchor="middle" >p</text>
<text transform="translate(59.30,211.30) rotate(0.1) scale(1.02,1)" fill="#000000" font-size="9.9" text-anchor="middle" >s</text>
<text transform="translate(97.50,201.30) rotate(0.1) scale(0.95,1)" fill="#0000ff" font-size="10.6" text-anchor="middle" >d</text>
<text transform="translate(68.50,243.00) rotate(0.1) scale(1.0,1)" fill="#ff00ff" font-size="10.6" text-anchor="middle" >f</text>
<text transform="translate(277.60,29.70) rotate(0.1) scale(1.0,1)" fill="#ff0000" font-size="10.6" text-anchor="middle" >p</text>
<text transform="translate(262.20,175.00) rotate(0.1) scale(1.02,1)" fill="#000000" font-size="9.9" text-anchor="middle" >s</text>
<text transform="translate(294.60,174.20) rotate(0.1) scale(0.95,1)" fill="#0000ff" font-size="10.6" text-anchor="middle" >d</text>
<text transform="translate(283.90,244.50) rotate(0.1) scale(1.0,1)" fill="#ff00ff" font-size="10.6" text-anchor="middle" >f</text>
<text transform="translate(158.70,43.90) rotate(0.1) scale(0.907,1)" fill="#ff0000" font-size="9.9" text-anchor="middle" >SPRPAE2</text>
<text transform="translate(376.30,47.10) rotate(0.1) scale(0.902,1)" fill="#ff0000" font-size="9.9" text-anchor="middle" >SPRPAE2</text>
<text transform="translate(116.2,278.9) rotate(0.1) scale(0.93,1)" font-size="10.4" fill="#000" stroke="#000" stroke-width="0.22" text-anchor="middle">Electron energy, eV</text>
<text transform="translate(334.15,278.9) rotate(0.1) scale(0.93,1)" font-size="10.4" fill="#000" stroke="#000" stroke-width="0.22" text-anchor="middle">Electron energy, eV</text>
<text transform="translate(10.55,242.8) rotate(-89.9)" font-size="10.4" fill="#000">spin-up partail elastic scattering cross sections, a</text>
<text transform="translate(15.1,15.85) rotate(-89.9)" font-size="7" fill="#000">0</text>
<text transform="translate(6.1,11.75) rotate(-89.9)" font-size="7" fill="#000">2</text>
<text transform="translate(226.5,248.95) rotate(-89.9)" font-size="10.4" fill="#000">spin-down partial elastic scattering cross sections, a</text>
<text transform="translate(230.8,9.5) rotate(-89.9)" font-size="7" fill="#000">O</text>
<text transform="translate(221,4.6) rotate(-89.9)" font-size="7" fill="#000">2</text>
<ellipse cx="50.40" cy="25.20" rx="3.4" ry="3.2" fill="none" stroke="#000" stroke-width="1.15"/>
<path d="M49.80,22.05 L55.90,22.05" stroke="#000" stroke-width="1.2" fill="none"/>
<text transform="translate(57.20,35.30) rotate(0.1) scale(1.0,1)" fill="#666" font-size="8.5" text-anchor="middle" font-style="italic">ℓ</text>
<line x1="61.10" y1="13.00" x2="61.10" y2="24.60" stroke="#444" stroke-width="0.8" />
<path d="M61.1,11.8 L60.2,15.4 L62,15.4 Z" fill="#111"/>
<ellipse cx="381.70" cy="22.30" rx="3.4" ry="3.2" fill="none" stroke="#000" stroke-width="1.15"/>
<path d="M381.10,19.15 L387.20,19.15" stroke="#000" stroke-width="1.2" fill="none"/>
<text transform="translate(388.90,32.90) rotate(0.1) scale(1.0,1)" fill="#666" font-size="8.5" text-anchor="middle" font-style="italic">ℓ</text>
<line x1="392.30" y1="10.60" x2="392.30" y2="21.00" stroke="#444" stroke-width="0.8" />
<path d="M392.3,22.4 L391.4,18.8 L393.2,18.8 Z" fill="#111"/>
</g>
</svg>
</body></html>
